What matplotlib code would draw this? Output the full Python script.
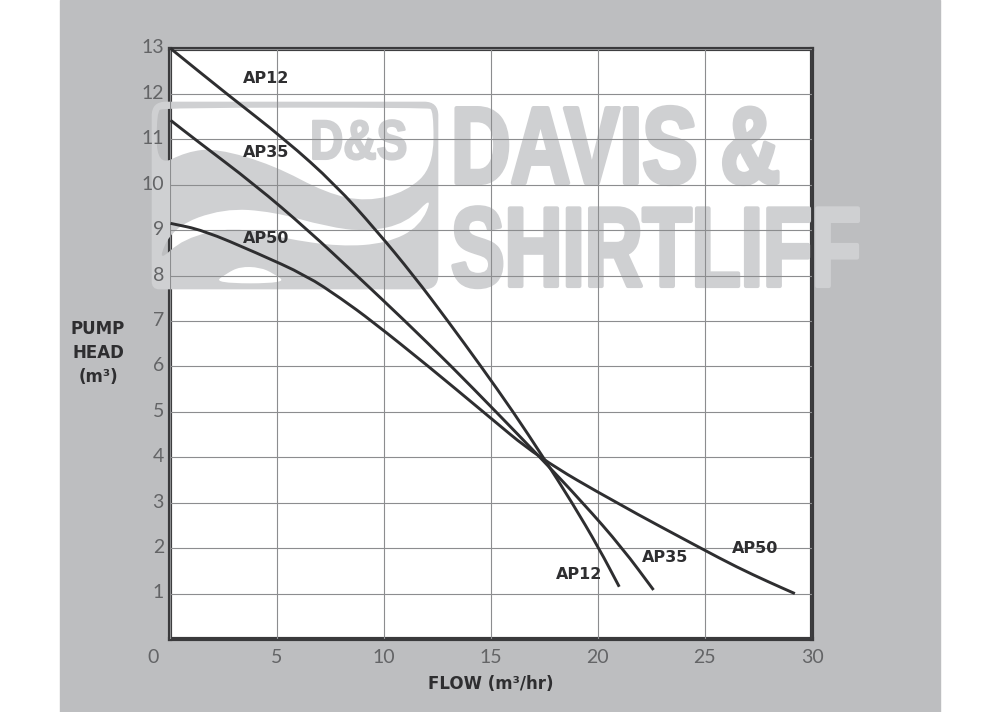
import matplotlib
matplotlib.use('Agg')
import matplotlib.pyplot as plt
import matplotlib.patheffects as pe
from matplotlib.patches import PathPatch, Rectangle
from matplotlib.path import Path
from matplotlib.transforms import Affine2D, ScaledTranslation

W, H = 1000, 712

# curve readings (flow m3/hr, head m)
ap12_flow = [0.05, 2.67, 5.39, 7.75, 9.65, 11.4, 13.0, 14.55, 16.05, 17.45, 18.8, 20.05, 21.0]
ap12_head = [13.0, 12.0, 11.0, 10.0, 9.0, 8.0, 7.0, 6.0, 5.0, 4.0, 3.0, 2.0, 1.15]
ap35_flow = [0.05, 1.19, 3.99, 6.47, 8.75, 11.0, 13.17, 15.25, 17.3, 19.3, 21.15, 22.6]
ap35_head = [11.42, 11.0, 10.0, 9.0, 8.0, 7.0, 6.0, 5.0, 4.0, 3.0, 2.0, 1.08]
ap50_flow = [0.05, 1.57, 4.07, 6.4, 8.0, 9.45, 12.1, 14.65, 17.2, 20.85, 24.8, 26.5, 28.0, 29.2]
ap50_head = [9.15, 9.0, 8.5, 8.0, 7.5, 7.0, 6.0, 5.0, 4.0, 3.0, 2.0, 1.58, 1.25, 1.0]

x_ticks = [0, 5, 10, 15, 20, 25, 30]
y_ticks = list(range(1, 14))

# label text and where it sits (flow, head)
curve_labels = ['AP12', 'AP35', 'AP50', 'AP12', 'AP35', 'AP50']
label_x = [4.5, 4.5, 4.5, 19.12, 23.13, 27.33]
label_y = [12.34, 10.72, 8.82, 1.43, 1.80, 2.0]

GREY = '#bdbec0'
MARK = '#cfd0d2'
INK = '#2e2e30'


class Stretch(pe.AbstractPathEffect):
	# squeeze/stretch text about its anchor, the logo lettering is condensed and heavy
	def __init__(self, sx, sy, stroke):
		super().__init__()
		self.sx, self.sy, self.stroke = sx, sy, stroke

	def draw_path(self, renderer, gc, tpath, affine, rgbFace=None):
		tx, ty = affine.to_values()[4:6]
		extra = Affine2D().translate(-tx, -ty).scale(self.sx, self.sy).translate(tx, ty)
		gc0 = renderer.new_gc()
		gc0.copy_properties(gc)
		gc0.set_linewidth(self.stroke)
		gc0.set_foreground(rgbFace)
		gc0.set_joinstyle('round')
		renderer.draw_path(gc0, tpath, affine + extra, rgbFace)
		gc0.restore()


def fx(px):
	return px / W


def fy(py):
	return 1 - py / H


def mid(a, b):
	return ((a[0] + b[0]) / 2, (a[1] + b[1]) / 2)


def smooth(points):
	# closed quadratic spline through the midpoints of the outline
	n = len(points)
	verts = [mid(points[-1], points[0])]
	codes = [Path.MOVETO]
	for i in range(n):
		verts += [points[i], mid(points[i], points[(i + 1) % n])]
		codes += [Path.CURVE3, Path.CURVE3]
	verts.append(verts[0])
	codes.append(Path.CLOSEPOLY)
	return verts, codes


def curve_path(xs, ys):
	# open version of the same thing for the pump curves
	pts = list(zip(xs, ys))
	verts = [pts[0], mid(pts[0], pts[1])]
	codes = [Path.MOVETO, Path.LINETO]
	for i in range(1, len(pts) - 1):
		verts += [pts[i], mid(pts[i], pts[i + 1])]
		codes += [Path.CURVE3, Path.CURVE3]
	verts.append(pts[-1])
	codes.append(Path.LINETO)
	return Path(verts, codes)


def logo_path():
	# trace of the badge from the zoomed crop, outer shape then the holes (opposite winding)
	outer = [(35, 300), (35, 215), (120, 215), (810, 215), (895, 215), (895, 300),
			 (895, 690), (895, 778), (810, 778), (80, 778), (35, 778), (35, 730)]
	holes = [
		[(50, 410), (140, 365), (230, 355), (400, 405), (560, 490), (680, 515), (800, 485),
		 (880, 410), (881, 240), (860, 233), (70, 233), (50, 245)],
		[(50, 700), (130, 625), (280, 590), (430, 625), (600, 650), (740, 640), (840, 590),
		 (880, 495), (800, 580), (680, 605), (560, 590), (400, 545), (250, 535), (100, 590)],
		[(442, 760), (400, 730), (360, 712), (300, 710), (260, 730), (220, 760)],
	]
	verts, codes = [], []
	v, c = smooth(outer)
	verts += v
	codes += c
	for h in holes:
		v, c = smooth(h)
		verts += v
		codes += c
	pts = [(fx(140 + a / 3), fy(30 + b / 3)) for a, b in verts]
	return Path(pts, codes)


fig = plt.figure(figsize=(W / 100, H / 100), dpi=100, facecolor='white')
fig.add_artist(Rectangle((fx(60), 0), fx(880), 1, color=GREY, transform=fig.transFigure, zorder=0))

ax = fig.add_axes([fx(169.5), fy(639), fx(812 - 169.5), fy(48.5) - fy(639)], zorder=1)
ax.set_xlim(0, 30)
ax.set_ylim(0, 13)

# logo sits over the frame but under the grid
ax.add_patch(PathPatch(logo_path(), facecolor=MARK, edgecolor='none', transform=fig.transFigure,
					   clip_on=False, zorder=2.6))
ax.text(fx(310), fy(159), 'D&S', fontsize=40, family='Liberation Sans', weight='bold', color=MARK,
		transform=fig.transFigure, zorder=2.6, path_effects=[Stretch(0.83, 1.0, 1.5)])
ax.text(fx(451), fy(183), 'DAVIS &', fontsize=70, family='Liberation Sans', weight='bold', color=MARK,
		transform=fig.transFigure, zorder=2.6, path_effects=[Stretch(0.85, 1.12, 3)])
ax.text(fx(451), fy(286), 'SHIRTLIFF', fontsize=70, family='Liberation Sans', weight='bold', color=MARK,
		transform=fig.transFigure, zorder=2.6, path_effects=[Stretch(0.825, 1.16, 3)])

ax.grid(True, color='#8c8d8f', lw=0.8)
ax.xaxis.set_zorder(2.7)
ax.yaxis.set_zorder(2.7)
for s in ax.spines.values():
	s.set_linewidth(3)
	s.set_color('#3a3a3c')

for flow, head in [(ap12_flow, ap12_head), (ap35_flow, ap35_head), (ap50_flow, ap50_head)]:
	ax.add_patch(PathPatch(curve_path(flow, head), fill=False, edgecolor=INK, lw=2.1,
						   capstyle='butt', zorder=3, clip_on=False))

for t, x, y in zip(curve_labels, label_x, label_y):
	ax.text(x, y, t, ha='center', va='center', fontsize=11.5, weight='bold', color=INK, zorder=4)

ax.set_xticks(x_ticks)
ax.set_yticks(y_ticks)
ax.tick_params(length=0, labelsize=14, labelcolor='#636466')
ax.tick_params(axis='x', pad=7)
ax.tick_params(axis='y', pad=4)
for lab in ax.get_xticklabels() + ax.get_yticklabels():
	lab.set_family('Lato')
# y labels ride a little above their lines
for lab in ax.get_yticklabels():
	lab.set_transform(lab.get_transform() + ScaledTranslation(0, 1.5 / 72, fig.dpi_scale_trans))
# the 0 is set left of the corner
first = ax.get_xticklabels()[0]
first.set_transform(first.get_transform() + ScaledTranslation(-12 / 72, 0, fig.dpi_scale_trans))

fig.text(fx(491), fy(684), 'FLOW (m³/hr)', ha='center', va='center', fontsize=12, weight='bold', color=INK)
fig.text(fx(98), fy(353), 'PUMP\nHEAD\n(m³)', ha='center', va='center', fontsize=12, weight='bold',
		 color=INK, linespacing=1.4)

fig.savefig('out.png', dpi=100, facecolor=fig.get_facecolor())
